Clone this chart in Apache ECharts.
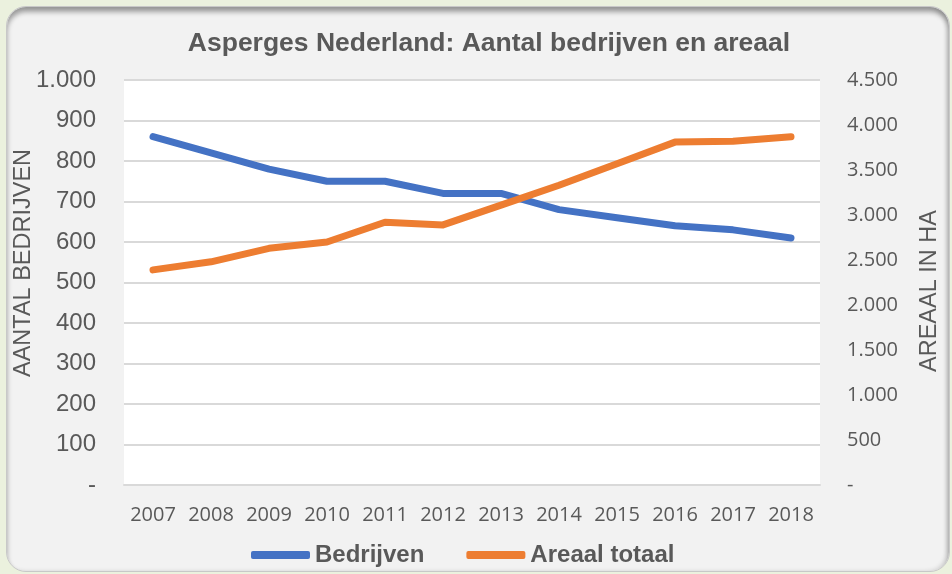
<!DOCTYPE html>
<html>
<head>
<meta charset="utf-8">
<script src="https://cdn.jsdelivr.net/npm/echarts@6/dist/echarts.min.js"></script>
<style>
  html, body { margin: 0; padding: 0; background: #ebf1de; }
  #panel {
    position: absolute; left: 6px; top: 6px; width: 942px; height: 564px;
    background: #f2f2f2; border-radius: 20px;
    border: 1px solid #c8c8c8;
    box-shadow: inset 0 5px 5px rgba(0, 0, 0, 0.35), inset -3px 0 4px rgba(0, 0, 0, 0.12);
  }
  #main { position: absolute; left: 0; top: 0; width: 952px; height: 574px; }
</style>
</head>
<body>
<div id="panel"></div>
<div id="main"></div>
<script>
var years = ['2007', '2008', '2009', '2010', '2011', '2012', '2013', '2014', '2015', '2016', '2017', '2018'];
var bedrijven = [860, 820, 780, 750, 750, 720, 720, 680, 660, 640, 630, 610];
var areaal = [2390, 2480, 2630, 2700, 2920, 2890, 3110, 3330, 3570, 3810, 3820, 3870];

// 1.000 style labels, 0 shown as "-"
function nlFormat(v) {
    if (v === 0) return '-';
    return String(v).replace(/\B(?=(\d{3})+(?!\d))/g, '.');
}

var myChart = echarts.init(document.getElementById('main'));

var nameStyle = {
    text: '',
    fontFamily: 'Liberation Sans',
    fontSize: 23.5,
    fill: '#595959',
    align: 'center',
    verticalAlign: 'middle'
};

var option = {
    backgroundColor: 'transparent',
    animation: false,
    title: {
        text: 'Asperges Nederland: Aantal bedrijven en areaal',
        left: 484,
        top: 25,
        textAlign: 'center',
        textStyle: {
            fontFamily: 'Liberation Sans',
            fontSize: 26.5,
            fontWeight: 'bold',
            color: '#595959'
        }
    },
    legend: {
        left: 246,
        top: 538,
        itemWidth: 59,
        itemHeight: 8,
        itemGap: 42,
        icon: 'roundRect',
        textStyle: {
            fontFamily: 'Liberation Sans',
            fontSize: 24,
            fontWeight: 'bold',
            color: '#595959'
        },
        data: ['Bedrijven', 'Areaal totaal']
    },
    // axis titles placed by hand, they sit off-centre in the original
    graphic: [{
        type: 'text',
        x: 24,
        y: 263,
        rotation: Math.PI / 2,
        style: Object.assign({}, nameStyle, { text: 'AANTAL BEDRIJVEN' })
    }, {
        type: 'text',
        x: 930,
        y: 291,
        rotation: Math.PI / 2,
        style: Object.assign({}, nameStyle, { text: 'AREAAL IN HA' })
    }],
    grid: {
        left: 124,
        right: 132,
        top: 80,
        bottom: 89,
        show: true,
        backgroundColor: '#ffffff',
        borderWidth: 0
    },
    xAxis: {
        type: 'category',
        data: years,
        boundaryGap: true,
        axisLine: { lineStyle: { color: '#d9d9d9', width: 2 } },
        axisTick: { show: false },
        axisLabel: {
            interval: 0,
            margin: 20,
            fontFamily: 'Open Sans',
            fontSize: 20,
            color: '#595959'
        }
    },
    yAxis: [{
        type: 'value',
        min: 0,
        max: 1000,
        interval: 100,
        axisLine: { show: false },
        axisTick: { show: false },
        splitLine: { lineStyle: { color: '#d9d9d9', width: 2 } },
        axisLabel: {
            margin: 28,
            fontFamily: 'Liberation Sans',
            fontSize: 24,
            color: '#595959',
            formatter: nlFormat
        }
    }, {
        type: 'value',
        min: 0,
        max: 4500,
        interval: 500,
        axisLine: { show: false },
        axisTick: { show: false },
        splitLine: { show: false },
        axisLabel: {
            margin: 27,
            fontFamily: 'Open Sans',
            fontSize: 20,
            color: '#595959',
            formatter: nlFormat
        }
    }],
    series: [{
        name: 'Bedrijven',
        type: 'line',
        yAxisIndex: 0,
        data: bedrijven,
        color: '#4472c4',
        showSymbol: false,
        symbol: 'none',
        lineStyle: { width: 7, color: '#4472c4', cap: 'round', join: 'round' }
    }, {
        name: 'Areaal totaal',
        type: 'line',
        yAxisIndex: 1,
        data: areaal,
        color: '#ed7d31',
        showSymbol: false,
        symbol: 'none',
        lineStyle: { width: 7, color: '#ed7d31', cap: 'round', join: 'round' }
    }]
};

myChart.setOption(option);
</script>
</body>
</html>
